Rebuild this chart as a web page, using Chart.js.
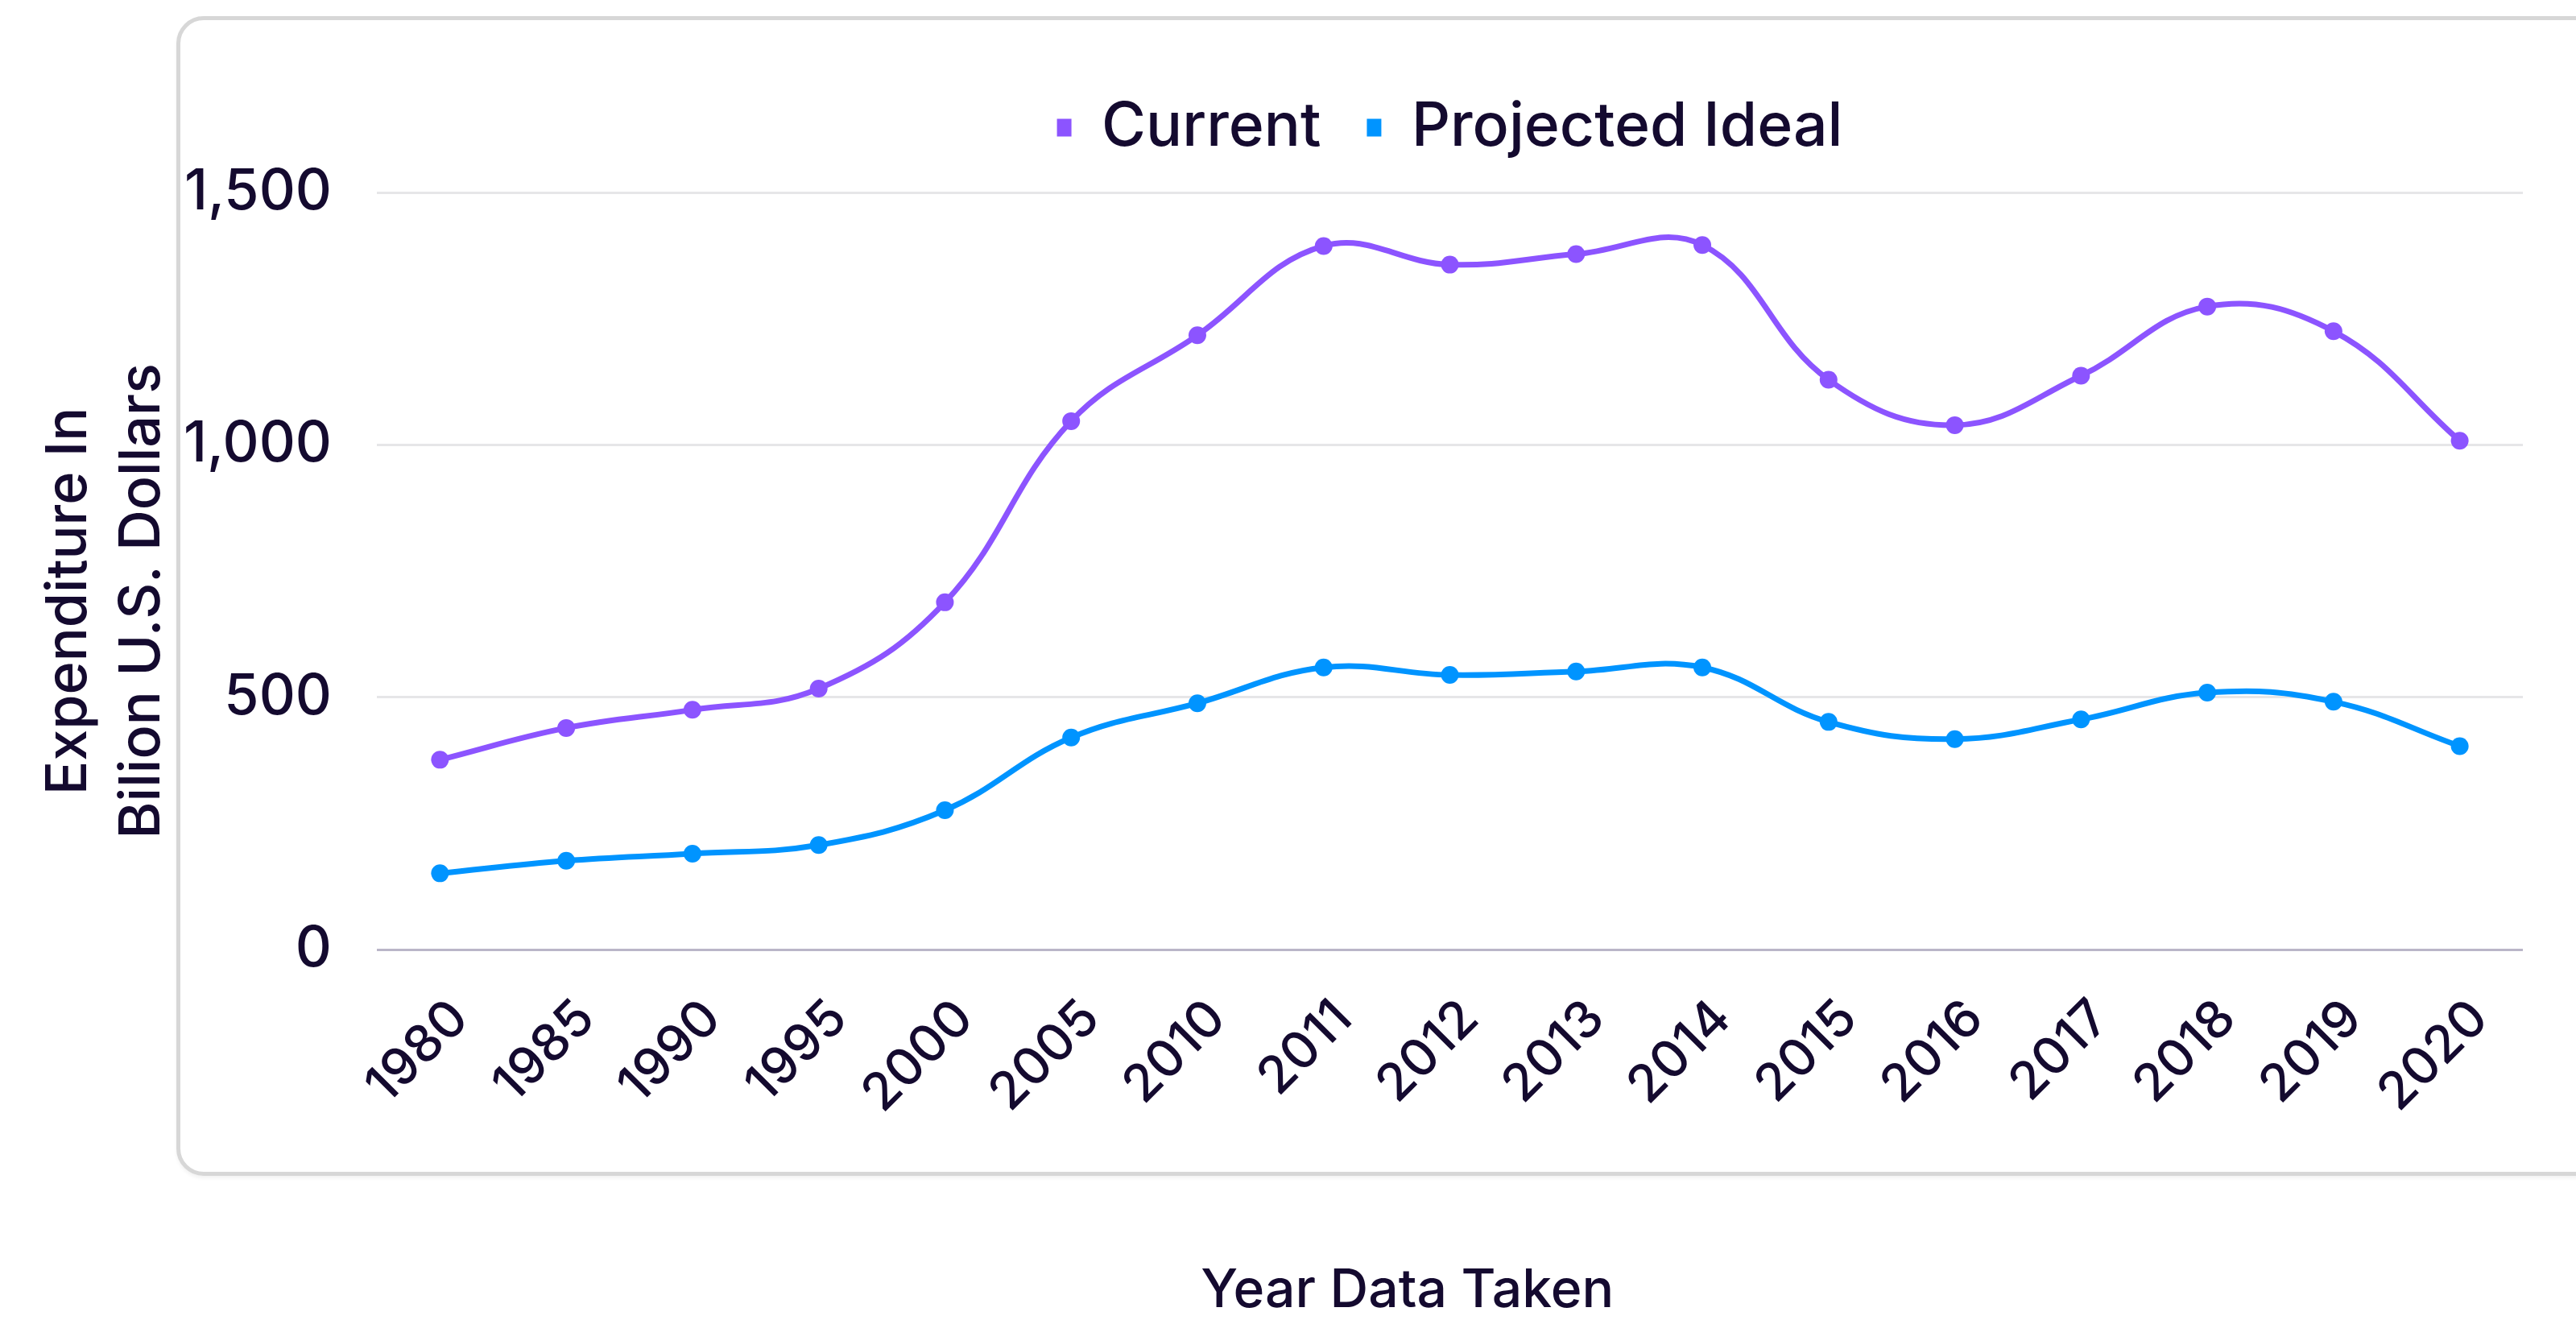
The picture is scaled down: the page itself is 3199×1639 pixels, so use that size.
<!DOCTYPE html>
<html>
<head>
<meta charset="utf-8">
<script src="https://cdn.jsdelivr.net/npm/chart.js@4/dist/chart.umd.min.js"></script>
<style>
    html, body { margin: 0; padding: 0; background: #ffffff; overflow: hidden; }
    #card {
        position: absolute;
        left: 219px;
        top: 20px;
        width: 3200px;
        height: 1440px;
        box-sizing: border-box;
        border: 5px solid #d7d7d7;
        border-radius: 34px;
        box-shadow: 0 3px 4px rgba(0, 0, 0, 0.05);
        background: #ffffff;
    }
    #grafico { position: absolute; left: 0; top: 0; }
</style>
</head>
<body>
<div id="card"></div>
<canvas id="grafico" width="3199" height="1639"></canvas>
<script>
// dados
const years = ['1980', '1985', '1990', '1995', '2000', '2005', '2010', '2011', '2012',
    '2013', '2014', '2015', '2016', '2017', '2018', '2019', '2020'];
const current = [376, 439, 475, 517, 688, 1047, 1217, 1394, 1357, 1378, 1396, 1129, 1039, 1137, 1274, 1225, 1008];
const projectedIdeal = [151, 176, 190, 207, 276, 420, 488, 559, 544, 551, 559, 451, 417, 456, 509, 491, 403];
const seriesNames = ['Current', 'Projected Ideal'];
const yMax = 1500;
const yStep = 500;

const corTexto = '#140a2f';
const fonte = 'Inter, "Noto Sans", sans-serif';

// a legenda do original deixa mais espaco antes da area do grafico
const espacoLegenda = {
    id: 'espacoLegenda',
    beforeInit(chart) {
        const fitOriginal = chart.legend.fit;
        chart.legend.fit = function() {
            fitOriginal.call(this);
            this.height += 33;
        };
    }
};

function montaGrafico() {
    const data = {
        labels: years,
        datasets: [{
            label: seriesNames[0],
            data: current,
            borderColor: '#8c54ff',
            backgroundColor: '#8c54ff',
            pointBackgroundColor: '#8c54ff',
            borderWidth: 7,
            pointRadius: 11,
            pointBorderWidth: 0,
            tension: 0.4
        }, {
            label: seriesNames[1],
            data: projectedIdeal,
            borderColor: '#0094ff',
            backgroundColor: '#0094ff',
            pointBackgroundColor: '#0094ff',
            borderWidth: 7,
            pointRadius: 11,
            pointBorderWidth: 0,
            tension: 0.4
        }]
    };

    const config = {
        type: 'line',
        data: data,
        plugins: [espacoLegenda],
        options: {
            responsive: false,
            animation: false,
            devicePixelRatio: 1,
            layout: { padding: { left: 20, top: 64, right: 66, bottom: 0 } },
            plugins: {
                tooltip: { enabled: false },
                legend: {
                    position: 'top',
                    fullSize: false,
                    labels: {
                        color: corTexto,
                        font: { family: fonte, size: 75, weight: '500' },
                        boxWidth: 18,
                        boxHeight: 22,
                        padding: 57,
                        generateLabels: function(chart) {
                            const itens = Chart.defaults.plugins.legend.labels.generateLabels(chart);
                            return itens.map(i => Object.assign(i, { lineWidth: 0 }));
                        }
                    }
                }
            },
            scales: {
                x: {
                    offset: true,
                    grid: { display: false, drawTicks: false },
                    border: { display: false },
                    ticks: {
                        color: corTexto,
                        font: { family: fonte, size: 64, weight: '500' },
                        minRotation: 45,
                        maxRotation: 45,
                        autoSkip: false,
                        padding: 48,
                        labelOffset: 25
                    },
                    title: {
                        display: true,
                        text: 'Year Data Taken      ',
                        color: corTexto,
                        font: { family: fonte, size: 66, weight: '500', lineHeight: 1 },
                        padding: { top: 0, bottom: 3 }
                    },
                    afterFit: function(axis) { axis.height = 460; }
                },
                y: {
                    min: 0,
                    max: yMax,
                    grid: {
                        drawTicks: false,
                        lineWidth: 3,
                        color: (c) => c.tick && c.tick.value === 0 ? '#bab6c8' : '#e6e6e8'
                    },
                    border: { display: false },
                    ticks: {
                        stepSize: yStep,
                        color: corTexto,
                        font: { family: fonte, size: 70, weight: '500' },
                        padding: 56
                    },
                    title: {
                        display: true,
                        text: ['Expenditure In    ', 'Bilion U.S. Dollars    '],
                        color: corTexto,
                        font: { family: fonte, size: 70, weight: '500', lineHeight: 1.3 },
                        padding: { top: 20, bottom: 10 }
                    },
                    afterFit: function(axis) { axis.width = 448; }
                }
            }
        }
    };

    const meuGrafico = new Chart(document.getElementById('grafico'), config);
}

montaGrafico();
</script>
</body>
</html>
